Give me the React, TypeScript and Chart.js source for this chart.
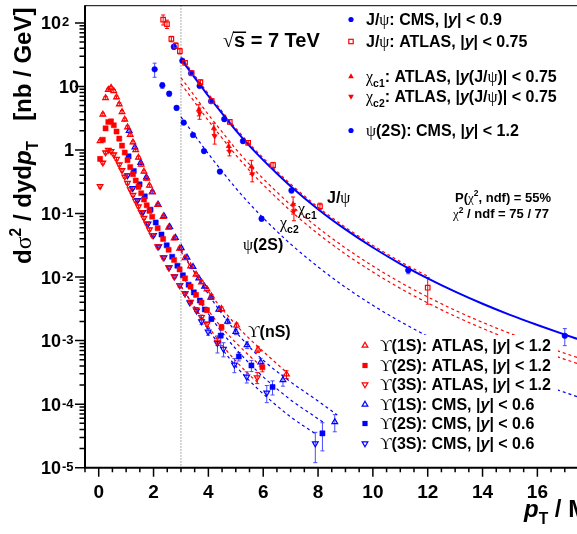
import React, { useEffect, useRef } from 'react';
import { Chart, registerables } from 'chart.js';
Chart.register(...registerables);

// ---------------- axis setup ----------------
const X_MIN = -0.5;
const X_MAX = 17.5;
const Y_MIN = 1e-5;
const Y_MAX = 190;
const FIT_START = 3;
const X_TICK_LABELS = [0, 2, 4, 6, 8, 10, 12, 14, 16];
const Y_DECADES = [-5, -4, -3, -2, -1, 0, 1, 2];

// ---------------- charmonium data ----------------
const jpsiCmsX = [2.74, 3.05, 3.37, 3.68, 4.10, 4.58, 5.26, 7.03, 11.29, 17.0];
const jpsiCmsY = [42, 25.4, 16.1, 10.2, 5.86, 3.06, 1.38, 0.23, 0.0128, 0.00119];
const jpsiCmsErr = [0.08, 0.06, 0.06, 0.06, 0.06, 0.06, 0.07, 0.08, 0.12, 0.3];

const jpsiAtlasX = [2.35, 2.49, 2.65, 2.81, 2.96, 3.15, 3.39, 3.71, 4.12, 4.78, 5.45, 6.36, 8.07, 12.0];
const jpsiAtlasY = [113, 96, 56, 44, 36, 23.6, 16.2, 11.7, 5.9, 2.78, 1.30, 0.58, 0.13, 0.0068];
const jpsiAtlasErr = [0.18, 0.15, 0.1, 0.1, 0.1, 0.08, 0.08, 0.08, 0.08, 0.08, 0.08, 0.1, 0.12, 0.45];

const chic1X = [3.65, 4.20, 4.74, 5.57, 7.09];
const chic1Y = [4.3, 2.2, 1.15, 0.55, 0.14];
const chic1Err = [0.2, 0.2, 0.15, 0.25, 0.3];
const chic2X = [3.68, 4.23, 4.77, 5.60, 7.12];
const chic2Y = [3.8, 1.65, 0.95, 0.42, 0.11];
const chic2Err = [0.2, 0.25, 0.15, 0.25, 0.3];

const psi2sX = [2.04, 2.32, 2.57, 2.84, 3.10, 3.44, 3.84, 4.42, 5.94];
const psi2sY = [18.6, 10.4, 7.7, 4.6, 2.7, 1.72, 0.96, 0.457, 0.083];
const psi2sErr = [0.25, 0.1, 0.08, 0.07, 0.07, 0.06, 0.06, 0.06, 0.08];

// ---------------- bottomonium data ----------------
const ups1sAtlasX = [0.05, 0.15, 0.25, 0.35, 0.45, 0.55, 0.65, 0.75, 0.85, 0.95, 1.05, 1.15, 1.25, 1.35, 1.45, 1.55, 1.65, 1.75, 1.85, 1.95, 2.15, 2.35, 2.55, 2.75, 2.95, 3.15, 3.35, 3.55, 3.75, 3.95, 4.11, 4.48, 5.03, 5.81, 6.85];
const ups1sAtlasY = [1.38, 3.63, 6.61, 8.91, 9.55, 8.51, 6.76, 5.25, 3.98, 3.02, 2.29, 1.74, 1.32, 1.00, 0.759, 0.589, 0.457, 0.355, 0.275, 0.219, 0.138, 0.0891, 0.0603, 0.0407, 0.0282, 0.0200, 0.0148, 0.0110, 0.00832, 0.00646, 0.00501, 0.00316, 0.00174, 0.000724, 0.000295];
const ups1sAtlasErr = [0.05, 0.05, 0.05, 0.05, 0.05, 0.05, 0.05, 0.05, 0.05, 0.05, 0.05, 0.05, 0.05, 0.05, 0.05, 0.05, 0.05, 0.05, 0.05, 0.05, 0.05, 0.05, 0.05, 0.05, 0.05, 0.05, 0.05, 0.05, 0.05, 0.05, 0.06, 0.07, 0.08, 0.1, 0.14];

const ups2sAtlasX = [0.05, 0.15, 0.25, 0.35, 0.45, 0.55, 0.65, 0.75, 0.85, 0.95, 1.05, 1.15, 1.25, 1.35, 1.45, 1.55, 1.65, 1.75, 1.85, 1.95, 2.15, 2.35, 2.55, 2.75, 2.95, 3.15, 3.35, 3.55, 3.75, 3.95, 4.48, 5.97];
const ups2sAtlasY = [0.724, 1.45, 2.19, 2.75, 2.82, 2.45, 1.95, 1.51, 1.17, 0.912, 0.692, 0.537, 0.417, 0.331, 0.263, 0.209, 0.166, 0.135, 0.110, 0.0891, 0.0589, 0.0398, 0.0269, 0.0186, 0.0132, 0.00955, 0.00708, 0.00525, 0.00398, 0.00302, 0.00162, 0.00038];
const ups2sAtlasErr = [0.05, 0.05, 0.05, 0.05, 0.05, 0.05, 0.05, 0.05, 0.05, 0.05, 0.05, 0.05, 0.05, 0.05, 0.05, 0.05, 0.05, 0.05, 0.05, 0.05, 0.05, 0.05, 0.05, 0.05, 0.05, 0.05, 0.05, 0.05, 0.06, 0.06, 0.1, 0.15];

const ups3sAtlasX = [0.05, 0.15, 0.25, 0.35, 0.45, 0.55, 0.65, 0.75, 0.85, 0.95, 1.05, 1.15, 1.25, 1.35, 1.45, 1.55, 1.65, 1.75, 1.85, 1.95, 2.15, 2.35, 2.55, 2.75, 2.95, 3.15, 3.35, 3.55, 3.75, 3.95, 4.33, 5.78];
const ups3sAtlasY = [0.269, 0.631, 0.912, 1.00, 0.955, 0.851, 0.724, 0.589, 0.479, 0.380, 0.302, 0.240, 0.195, 0.158, 0.129, 0.105, 0.0851, 0.0692, 0.0562, 0.0457, 0.0302, 0.0204, 0.0141, 0.0102, 0.00741, 0.00550, 0.00407, 0.00309, 0.00234, 0.00182, 0.000955, 0.000263];
const ups3sAtlasErr = [0.06, 0.05, 0.05, 0.05, 0.05, 0.05, 0.05, 0.05, 0.05, 0.05, 0.05, 0.05, 0.05, 0.05, 0.05, 0.05, 0.05, 0.05, 0.05, 0.05, 0.05, 0.05, 0.05, 0.05, 0.06, 0.06, 0.06, 0.07, 0.08, 0.08, 0.12, 0.2];

const ups1sCmsX = [1.11, 1.32, 1.53, 1.74, 1.96, 2.17, 2.38, 2.59, 2.80, 3.01, 3.22, 3.44, 3.65, 3.86, 4.09, 4.38, 4.70, 5.00, 5.41, 5.91, 6.72, 8.61];
const ups1sCmsY = [2.00, 1.10, 0.631, 0.372, 0.219, 0.138, 0.0912, 0.0617, 0.0417, 0.0288, 0.0204, 0.0145, 0.00955, 0.00708, 0.00479, 0.00309, 0.00200, 0.00138, 0.000851, 0.000457, 0.000240, 0.0000525];
const ups1sCmsErr = [0.04, 0.04, 0.04, 0.04, 0.04, 0.04, 0.04, 0.04, 0.04, 0.04, 0.04, 0.04, 0.04, 0.04, 0.06, 0.07, 0.08, 0.1, 0.12, 0.15, 0.2, 0.3];

const ups2sCmsX = [1.09, 1.28, 1.49, 1.68, 1.89, 2.08, 2.29, 2.48, 2.68, 2.87, 3.07, 3.28, 3.47, 3.69, 3.87, 4.11, 4.45, 5.11, 5.57, 6.34, 8.16];
const ups2sCmsY = [0.794, 0.468, 0.288, 0.186, 0.115, 0.0724, 0.0468, 0.0316, 0.0209, 0.0151, 0.0107, 0.00759, 0.00575, 0.00427, 0.00309, 0.00219, 0.00120, 0.000562, 0.000407, 0.000186, 0.0000347];
const ups2sCmsErr = [0.05, 0.05, 0.05, 0.05, 0.05, 0.05, 0.05, 0.05, 0.05, 0.05, 0.05, 0.05, 0.05, 0.05, 0.05, 0.08, 0.3, 0.15, 0.2, 0.25, 0.47];

const ups3sCmsX = [1.05, 1.24, 1.42, 1.61, 1.80, 2.00, 2.19, 2.38, 2.57, 2.77, 2.96, 3.15, 3.32, 3.57, 3.75, 3.99, 4.33, 4.55, 4.95, 5.40, 6.13, 7.90];
const ups3sCmsY = [0.398, 0.251, 0.162, 0.105, 0.0692, 0.0457, 0.0302, 0.0204, 0.0141, 0.0102, 0.00741, 0.00550, 0.00398, 0.00295, 0.00200, 0.00138, 0.000912, 0.000741, 0.000417, 0.000269, 0.000151, 0.0000240];
const ups3sCmsErr = [0.05, 0.05, 0.05, 0.05, 0.05, 0.05, 0.05, 0.05, 0.05, 0.05, 0.05, 0.05, 0.05, 0.05, 0.1, 0.12, 0.3, 0.25, 0.25, 0.2, 0.3, 0.5];

// ---------------- fitted curves ----------------
const fitX = [3, 3.5, 4, 4.5, 5, 5.5, 6, 6.5, 7, 8, 9, 10, 11, 12, 13, 14, 15, 16, 17, 17.5];
const jpsiFitY = [26.9, 13.8, 7.08, 3.76, 2.04, 1.16, 0.692, 0.427, 0.269, 0.117, 0.0562, 0.0292, 0.0162, 0.00955, 0.00589, 0.00380, 0.00254, 0.00176, 0.00124, 0.00105];
const chic1FitY = [13.7, 7.04, 3.61, 1.92, 1.04, 0.592, 0.353, 0.218, 0.137, 0.0597, 0.0287, 0.0149, 0.00826, 0.00487, 0.00300, 0.00194, 0.00130, 0.000898, 0.000632, 0.000536];
const chic2FitY = [11.0, 5.66, 2.90, 1.54, 0.836, 0.476, 0.284, 0.175, 0.110, 0.0480, 0.0230, 0.0120, 0.00664, 0.00392, 0.00241, 0.00156, 0.00104, 0.000722, 0.000508, 0.000431];
const psi2sFitY = [3.31, 1.70, 0.871, 0.462, 0.251, 0.143, 0.0851, 0.0525, 0.0331, 0.0145, 0.00692, 0.00359, 0.00200, 0.00117, 0.00072, 0.00047, 0.00031, 0.000216, 0.000153, 0.000129];
const jpsiAtlasFitX = [3, 3.5, 4, 4.5, 5, 5.5, 6, 6.5, 7, 8, 9, 10, 11, 12];
const jpsiAtlasFitY = [29.1, 14.9, 7.65, 4.06, 2.20, 1.25, 0.747, 0.461, 0.291, 0.126, 0.0607, 0.0315, 0.0175, 0.0103];

const ups1sAtlasFitX = [3, 3.5, 4, 4.5, 5, 5.5, 6, 6.85];
const ups1sAtlasFitY = [0.0251, 0.01175, 0.00589, 0.00316, 0.00178, 0.00107, 0.000676, 0.000316];
const ups2sAtlasFitX = [3, 3.5, 4, 4.5, 5, 5.5, 6];
const ups2sAtlasFitY = [0.0112, 0.00562, 0.00295, 0.00158, 0.000933, 0.000575, 0.000372];
const ups3sAtlasFitX = [3, 3.5, 4, 4.5, 5, 5.5, 5.8];
const ups3sAtlasFitY = [0.00708, 0.00339, 0.00166, 0.000851, 0.000479, 0.000288, 0.000219];
const ups1sCmsFitX = [3, 3.5, 4, 4.5, 5, 5.5, 6, 7, 8, 8.7];
const ups1sCmsFitY = [0.0269, 0.01175, 0.00537, 0.00263, 0.00138, 0.000794, 0.00049, 0.000224, 0.000112, 0.0000676];
const ups2sCmsFitX = [3, 3.5, 4, 4.5, 5, 5.5, 6, 7, 8, 8.2];
const ups2sCmsFitY = [0.0112, 0.00537, 0.00263, 0.00135, 0.000741, 0.000437, 0.000269, 0.000117, 0.0000589, 0.0000513];
const ups3sCmsFitX = [3, 3.5, 4, 4.5, 5, 5.5, 6, 7, 7.95];
const ups3sCmsFitY = [0.00724, 0.00331, 0.00151, 0.000741, 0.000398, 0.000234, 0.000145, 0.0000631, 0.0000331];

// ---------------- styling ----------------
const RED = '#ff0000';
const BLUE = '#0000ff';
const BLUE_ERR = '#4b4bff';
const SANS = '"Liberation Sans", Arial, Helvetica, sans-serif';
const SERIF = '"Liberation Serif", "DejaVu Serif", "Times New Roman", serif';
const UPS = '\u03D2';

type Seg = { t: string; f?: 'b' | 'bi' | 'g'; s?: 'sub' | 'sup' };

function fontFor(f: string | undefined, size: number) {
  if (f === 'g') return `${size}px ${SERIF}`;
  if (f === 'bi') return `italic bold ${size}px ${SANS}`;
  return `bold ${size}px ${SANS}`;
}

function richWidth(ctx: CanvasRenderingContext2D, segs: Seg[], size: number) {
  let w = 0;
  for (const s of segs) {
    ctx.font = fontFor(s.f, s.s ? size * 0.65 : size);
    w += ctx.measureText(s.t).width;
  }
  return w;
}

function drawRich(ctx: CanvasRenderingContext2D, x: number, y: number, segs: Seg[], size: number, color = '#000', align: 'left' | 'right' | 'center' = 'left') {
  const w = richWidth(ctx, segs, size);
  let cx = align === 'left' ? x : align === 'right' ? x - w : x - w / 2;
  ctx.fillStyle = color;
  ctx.textAlign = 'left';
  ctx.textBaseline = 'alphabetic';
  for (const s of segs) {
    const sz = s.s ? size * 0.65 : size;
    const dy = s.s === 'sub' ? size * 0.3 : s.s === 'sup' ? -size * 0.42 : 0;
    ctx.font = fontFor(s.f, sz);
    ctx.fillText(s.t, cx, y + dy);
    cx += ctx.measureText(s.t).width;
  }
}

function drawMarker(ctx: CanvasRenderingContext2D, kind: string, x: number, y: number, color: string) {
  ctx.save();
  ctx.strokeStyle = color;
  ctx.fillStyle = color;
  ctx.lineWidth = 1.2;
  const r = 3.3;
  ctx.beginPath();
  switch (kind) {
    case 'circle':
      ctx.arc(x, y, 2.6, 0, Math.PI * 2);
      ctx.fill();
      break;
    case 'openSquare':
      ctx.strokeRect(x - 2.2, y - 2.2, 4.4, 4.4);
      break;
    case 'square':
      ctx.fillRect(x - 2.6, y - 2.6, 5.2, 5.2);
      break;
    case 'triUp':
    case 'openTriUp':
      ctx.moveTo(x, y - r);
      ctx.lineTo(x + r * 0.866, y + r * 0.5);
      ctx.lineTo(x - r * 0.866, y + r * 0.5);
      ctx.closePath();
      if (kind === 'triUp') ctx.fill(); else ctx.stroke();
      break;
    case 'triDown':
    case 'openTriDown':
      ctx.moveTo(x, y + r);
      ctx.lineTo(x + r * 0.866, y - r * 0.5);
      ctx.lineTo(x - r * 0.866, y - r * 0.5);
      ctx.closePath();
      if (kind === 'triDown') ctx.fill(); else ctx.stroke();
      break;
  }
  ctx.restore();
}

const zip = (xs: number[], ys: number[]) => xs.map((x, i) => ({ x, y: ys[i] }));

function curve(xs: number[], ys: number[], color: string, dash: number[], width: number) {
  return {
    data: zip(xs, ys),
    showLine: true,
    borderColor: color,
    borderWidth: width,
    borderDash: dash,
    pointRadius: 0,
    fill: false,
    order: 10,
    cubicInterpolationMode: 'monotone',
  };
}

function points(xs: number[], ys: number[], errs: number[], color: string, style: string, filled: boolean, rot: number, radius: number, errColor: string) {
  return {
    data: zip(xs, ys),
    showLine: false,
    pointStyle: style,
    pointRotation: rot,
    pointRadius: radius,
    pointBorderWidth: filled ? 0.5 : 1.2,
    pointBorderColor: color,
    pointBackgroundColor: filled ? color : 'rgba(255,255,255,0)',
    order: 1,
    errs,
    errColor,
  };
}

const topLegend: { kind: string; color: string; base: number; segs: Seg[] }[] = [
  { kind: 'circle', color: BLUE, base: 25, segs: [{ t: 'J/' }, { t: 'ψ', f: 'g' }, { t: ': CMS, |' }, { t: 'y', f: 'bi' }, { t: '| < 0.9' }] },
  { kind: 'openSquare', color: RED, base: 47, segs: [{ t: 'J/' }, { t: 'ψ', f: 'g' }, { t: ': ATLAS, |' }, { t: 'y', f: 'bi' }, { t: '| < 0.75' }] },
  { kind: 'triUp', color: RED, base: 82, segs: [{ t: 'χ', f: 'g' }, { t: 'c1', s: 'sub' }, { t: ': ATLAS, |' }, { t: 'y', f: 'bi' }, { t: '(J/' }, { t: 'ψ', f: 'g' }, { t: ')| < 0.75' }] },
  { kind: 'triDown', color: RED, base: 102, segs: [{ t: 'χ', f: 'g' }, { t: 'c2', s: 'sub' }, { t: ': ATLAS, |' }, { t: 'y', f: 'bi' }, { t: '(J/' }, { t: 'ψ', f: 'g' }, { t: ')| < 0.75' }] },
  { kind: 'circle', color: BLUE, base: 136, segs: [{ t: 'ψ', f: 'g' }, { t: '(2S): CMS, |' }, { t: 'y', f: 'bi' }, { t: '| < 1.2' }] },
];

const upsLegend: { kind: string; color: string; base: number; segs: Seg[] }[] = [
  { kind: 'openTriUp', color: RED, base: 351, segs: [{ t: UPS, f: 'g' }, { t: '(1S): ATLAS, |' }, { t: 'y', f: 'bi' }, { t: '| < 1.2' }] },
  { kind: 'square', color: RED, base: 371, segs: [{ t: UPS, f: 'g' }, { t: '(2S): ATLAS, |' }, { t: 'y', f: 'bi' }, { t: '| < 1.2' }] },
  { kind: 'openTriDown', color: RED, base: 390, segs: [{ t: UPS, f: 'g' }, { t: '(3S): ATLAS, |' }, { t: 'y', f: 'bi' }, { t: '| < 1.2' }] },
  { kind: 'openTriUp', color: BLUE, base: 410, segs: [{ t: UPS, f: 'g' }, { t: '(1S): CMS, |' }, { t: 'y', f: 'bi' }, { t: '| < 0.6' }] },
  { kind: 'square', color: BLUE, base: 429, segs: [{ t: UPS, f: 'g' }, { t: '(2S): CMS, |' }, { t: 'y', f: 'bi' }, { t: '| < 0.6' }] },
  { kind: 'openTriDown', color: BLUE, base: 449, segs: [{ t: UPS, f: 'g' }, { t: '(3S): CMS, |' }, { t: 'y', f: 'bi' }, { t: '| < 0.6' }] },
];

const rootPlugin = {
  id: 'rootStyle',
  beforeDatasetsDraw(chart: any) {
    const { ctx, chartArea: a, scales } = chart;
    const xs = scales.x, ys = scales.y;
    ctx.save();
    ctx.beginPath();
    ctx.rect(a.left, a.top, a.right - a.left, a.bottom - a.top);
    ctx.clip();
    // vertical dotted line at fit start
    const px = xs.getPixelForValue(FIT_START);
    ctx.strokeStyle = '#909090';
    ctx.lineWidth = 1;
    ctx.setLineDash([1.5, 1.5]);
    ctx.beginPath();
    ctx.moveTo(px, a.top);
    ctx.lineTo(px, a.bottom);
    ctx.stroke();
    ctx.setLineDash([]);
    // error bars
    chart.data.datasets.forEach((ds: any) => {
      if (!ds.errs) return;
      ctx.strokeStyle = ds.errColor;
      ctx.lineWidth = 1;
      ds.data.forEach((p: any, i: number) => {
        const e = ds.errs[i];
        if (!e) return;
        const cx = xs.getPixelForValue(p.x);
        const t = ys.getPixelForValue(p.y * (1 + e));
        const b = ys.getPixelForValue(Math.max(p.y * (1 - e), 1e-12));
        ctx.beginPath();
        ctx.moveTo(cx, t); ctx.lineTo(cx, b);
        ctx.moveTo(cx - 2, t); ctx.lineTo(cx + 2, t);
        ctx.moveTo(cx - 2, b); ctx.lineTo(cx + 2, b);
        ctx.stroke();
      });
    });
    ctx.restore();
  },
  afterDatasetsDraw(chart: any) {
    const { ctx } = chart;
    ctx.save();
    // legend box (white, hides curves behind it)
    ctx.fillStyle = '#ffffff';
    ctx.fillRect(357, 335, 201, 123);
    upsLegend.forEach((e) => {
      drawMarker(ctx, e.kind, 365, e.base - 5.5, e.color);
      drawRich(ctx, 380, e.base, e.segs, 16);
    });
    topLegend.forEach((e) => {
      drawMarker(ctx, e.kind, 351, e.base - 5.5, e.color);
      drawRich(ctx, 366, e.base, e.segs, 16);
    });
    // sqrt(s) = 7 TeV
    ctx.font = `20px ${SERIF}`;
    ctx.fillStyle = '#000';
    ctx.textBaseline = 'alphabetic';
    ctx.textAlign = 'left';
    ctx.fillText('√', 223, 47);
    const rw = ctx.measureText('√').width;
    ctx.font = `bold 20px ${SANS}`;
    ctx.fillText('s', 223 + rw, 47);
    const sw = ctx.measureText('s').width;
    ctx.fillRect(223 + rw - 1, 31.5, sw + 2, 1.5);
    ctx.fillText(' = 7 TeV', 223 + rw + sw, 47);
    // curve labels
    drawRich(ctx, 327, 203, [{ t: 'J/' }, { t: 'ψ', f: 'g' }], 16);
    drawRich(ctx, 298, 214, [{ t: 'χ', f: 'g' }, { t: 'c1', s: 'sub' }], 16);
    drawRich(ctx, 280, 228, [{ t: 'χ', f: 'g' }, { t: 'c2', s: 'sub' }], 16);
    drawRich(ctx, 243, 250, [{ t: 'ψ', f: 'g' }, { t: '(2S)' }], 16);
    drawRich(ctx, 248, 337, [{ t: UPS, f: 'g' }, { t: '(nS)' }], 16);
    // fit quality
    drawRich(ctx, 455, 201.5, [{ t: 'P(' }, { t: 'χ', f: 'g' }, { t: '2', s: 'sup' }, { t: ', ndf) = 55%' }], 13);
    drawRich(ctx, 453, 218, [{ t: 'χ', f: 'g' }, { t: '2', s: 'sup' }, { t: ' / ndf = 75 / 77' }], 13);
    ctx.restore();
  },
  afterDraw(chart: any) {
    const { ctx, chartArea: a, scales } = chart;
    const xs = scales.x, ys = scales.y;
    ctx.save();
    ctx.strokeStyle = '#000';
    // frame top
    ctx.lineWidth = 1;
    ctx.beginPath();
    ctx.moveTo(a.left, a.top + 0.5);
    ctx.lineTo(a.right + 20, a.top + 0.5);
    ctx.stroke();
    // axes
    ctx.lineWidth = 2;
    ctx.beginPath();
    ctx.moveTo(a.left, a.top);
    ctx.lineTo(a.left, a.bottom);
    ctx.lineTo(a.right + 20, a.bottom);
    ctx.stroke();
    // y ticks
    ctx.lineWidth = 1.5;
    ctx.beginPath();
    for (let n = -5; n <= 2; n++) {
      for (let m = 1; m <= 9; m++) {
        const v = m * Math.pow(10, n);
        if (v < Y_MIN * 0.999 || v > Y_MAX) continue;
        const py = ys.getPixelForValue(v);
        const len = m === 1 ? 10 : 5.5;
        ctx.moveTo(a.left - len, py);
        ctx.lineTo(a.left, py);
      }
    }
    // x ticks
    for (let v = X_MIN; v <= X_MAX + 1e-6; v += 0.5) {
      const px = xs.getPixelForValue(v);
      const major = Math.abs(v / 2 - Math.round(v / 2)) < 1e-6;
      ctx.moveTo(px, a.bottom);
      ctx.lineTo(px, a.bottom + (major ? 9 : 4.5));
    }
    ctx.stroke();
    // x labels
    ctx.fillStyle = '#000';
    ctx.font = `bold 19px ${SANS}`;
    ctx.textAlign = 'center';
    ctx.textBaseline = 'alphabetic';
    X_TICK_LABELS.forEach((v) => {
      ctx.fillText(String(v), xs.getPixelForValue(v), 497.5);
    });
    // y labels
    Y_DECADES.forEach((n) => {
      const py = ys.getPixelForValue(Math.pow(10, n));
      ctx.font = `bold 18px ${SANS}`;
      if (n === 0) {
        ctx.textAlign = 'right';
        ctx.fillText('1', 74, py + 6.5);
      } else if (n === 1) {
        ctx.textAlign = 'right';
        ctx.fillText('10', 79, py + 6.5);
      } else {
        ctx.textAlign = 'right';
        ctx.fillText('10', 61, py + 6.5);
        ctx.textAlign = 'left';
        ctx.font = `bold 13px ${SANS}`;
        ctx.fillText(String(n), 62, py + 3.5);
      }
    });
    // y title (rotated)
    ctx.save();
    ctx.translate(31, 264);
    ctx.rotate(-Math.PI / 2);
    drawRich(ctx, 0, 0, [{ t: 'd' }, { t: 'σ', f: 'g' }, { t: '2', s: 'sup' }, { t: ' / dyd' }, { t: 'p', f: 'bi' }, { t: 'T', s: 'sub' }, { t: '   [nb / GeV]' }], 24);
    ctx.restore();
    // x title
    drawRich(ctx, 524, 517, [{ t: 'p', f: 'bi' }, { t: 'T', s: 'sub' }, { t: ' / M' }], 24);
    ctx.restore();
  },
};

export default function App() {
  const ref = useRef<HTMLCanvasElement | null>(null);
  useEffect(() => {
    if (!ref.current) return;
    const datasets: any[] = [
      curve(fitX, jpsiFitY, BLUE, [], 2),
      curve(jpsiAtlasFitX, jpsiAtlasFitY, RED, [3, 3], 1.2),
      curve(fitX, chic1FitY, RED, [3, 3], 1.2),
      curve(fitX, chic2FitY, RED, [3, 3], 1.2),
      curve(fitX, psi2sFitY, BLUE, [3, 3], 1.2),
      curve(ups1sAtlasFitX, ups1sAtlasFitY, RED, [3, 3], 1.2),
      curve(ups2sAtlasFitX, ups2sAtlasFitY, RED, [3, 3], 1.2),
      curve(ups3sAtlasFitX, ups3sAtlasFitY, RED, [3, 3], 1.2),
      curve(ups1sCmsFitX, ups1sCmsFitY, BLUE, [3, 3], 1.2),
      curve(ups2sCmsFitX, ups2sCmsFitY, BLUE, [3, 3], 1.2),
      curve(ups3sCmsFitX, ups3sCmsFitY, BLUE, [3, 3], 1.2),
      points(ups1sAtlasX, ups1sAtlasY, ups1sAtlasErr, RED, 'triangle', false, 0, 3.3, RED),
      points(ups2sAtlasX, ups2sAtlasY, ups2sAtlasErr, RED, 'rect', true, 0, 3.6, RED),
      points(ups3sAtlasX, ups3sAtlasY, ups3sAtlasErr, RED, 'triangle', false, 180, 3.3, RED),
      points(ups1sCmsX, ups1sCmsY, ups1sCmsErr, BLUE, 'triangle', false, 0, 3.3, BLUE_ERR),
      points(ups2sCmsX, ups2sCmsY, ups2sCmsErr, BLUE, 'rect', true, 0, 3.6, BLUE_ERR),
      points(ups3sCmsX, ups3sCmsY, ups3sCmsErr, BLUE, 'triangle', false, 180, 3.3, BLUE_ERR),
      points(jpsiAtlasX, jpsiAtlasY, jpsiAtlasErr, RED, 'rect', false, 0, 3.2, RED),
      points(chic1X, chic1Y, chic1Err, RED, 'triangle', true, 0, 3.0, RED),
      points(chic2X, chic2Y, chic2Err, RED, 'triangle', true, 180, 3.0, RED),
      points(psi2sX, psi2sY, psi2sErr, BLUE, 'circle', true, 0, 2.8, BLUE_ERR),
      points(jpsiCmsX, jpsiCmsY, jpsiCmsErr, BLUE, 'circle', true, 0, 2.8, BLUE_ERR),
    ];
    const chart = new Chart(ref.current, {
      type: 'scatter',
      data: { datasets },
      options: {
        responsive: false,
        animation: false,
        devicePixelRatio: 1,
        events: [],
        layout: { padding: { left: 85, top: 3, right: 13.5, bottom: 66.3 } },
        plugins: { legend: { display: false }, tooltip: { enabled: false } },
        scales: {
          x: { type: 'linear', min: X_MIN, max: X_MAX, display: false },
          y: { type: 'logarithmic', min: Y_MIN, max: Y_MAX, display: false },
        },
      } as any,
      plugins: [rootPlugin as any],
    });
    return () => chart.destroy();
  }, []);
  return (
    <div style={{ position: 'absolute', left: 0, top: 0, width: 577, height: 534, overflow: 'hidden', background: '#fff' }}>
      <canvas ref={ref} width={592} height={534} style={{ display: 'block' }} />
    </div>
  );
}
